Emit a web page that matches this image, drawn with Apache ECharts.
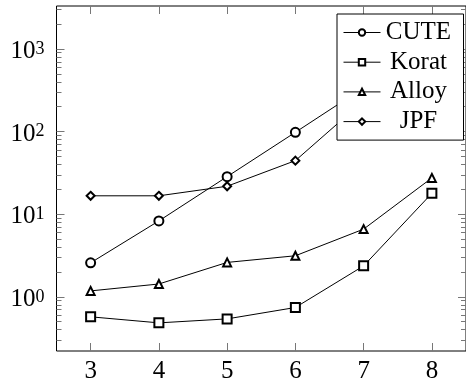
<!DOCTYPE html>
<html>
<head>
<meta charset="utf-8">
<script src="https://cdn.jsdelivr.net/npm/echarts@6/dist/echarts.min.js"></script>
<style>
  html, body { margin: 0; padding: 0; background: #fff; }
  #chart { width: 466px; height: 391px; }
</style>
</head>
<body>
<div id="chart"></div>
<script>
// problem size on the x axis
var sizes = ['3', '4', '5', '6', '7', '8'];
// time per tool (log scale)
var cute = [2.58, 8.3, 28.5, 98, 340, 1150];
var korat = [0.573, 0.484, 0.541, 0.743, 2.37, 17.9];
var alloy = [1.18, 1.43, 2.61, 3.14, 6.6, 27.5];
var jpf = [16.7, 16.7, 21.8, 44.5, 236, 1300];
// y ticks
var majorTicks = [1, 10, 100, 1000];
var minorTicks = [0.3, 0.4, 0.5, 0.6, 0.7, 0.8, 0.9,
  2, 3, 4, 5, 6, 7, 8, 9,
  20, 30, 40, 50, 60, 70, 80, 90,
  200, 300, 400, 500, 600, 700, 800, 900,
  2000, 3000];

var font = 'Liberation Serif';
var tickColor = '#777';

var chart = echarts.init(document.getElementById('chart'));

function yAx (pos, ticks, len, labels) {
  return {
    type: 'log',
    logBase: 10,
    min: 0.221,
    max: 3311,
    position: pos,
    axisLine: { show: false },
    splitLine: { show: false },
    minorTick: { show: false },
    axisTick: {
      show: true,
      inside: true,
      length: len,
      customValues: ticks,
      lineStyle: { color: tickColor, width: 1 }
    },
    axisLabel: labels ? {
      show: true,
      customValues: majorTicks,
      margin: 12,
      formatter: function (v) {
        return '{b|10}{s|' + Math.round(Math.log10(v)) + '}';
      },
      rich: {
        b: { fontFamily: font, fontSize: 25, lineHeight: 25, color: '#000', padding: [5, 0, 0, 0] },
        s: { fontFamily: font, fontSize: 18, lineHeight: 18, color: '#000' }
      }
    } : { show: false }
  };
}

function xAx (pos, labels) {
  return {
    type: 'category',
    data: sizes,
    position: pos,
    boundaryGap: true,
    axisLine: { show: false },
    splitLine: { show: false },
    axisTick: {
      show: true,
      inside: true,
      length: 8,
      alignWithLabel: true,
      lineStyle: { color: tickColor, width: 1 }
    },
    axisLabel: labels ? {
      show: true,
      margin: 8,
      fontFamily: font,
      fontSize: 25,
      color: '#000'
    } : { show: false }
  };
}

function mkSeries (name, data, symbol, size) {
  return {
    name: name,
    type: 'line',
    data: data,
    symbol: symbol,
    symbolSize: size,
    lineStyle: { color: '#000', width: 1 },
    itemStyle: { color: '#000', borderColor: '#222', borderWidth: 1 },
    emphasis: { disabled: true },
    animation: false
  };
}

var option = {
  backgroundColor: '#fff',
  grid: {
    left: 56.5,
    right: -4.5,
    top: 6,
    bottom: 40,
    show: true,
    borderColor: '#000',
    borderWidth: 1,
    backgroundColor: 'transparent'
  },
  legend: {
    orient: 'vertical',
    left: 337,
    top: 14,
    padding: [6, 12, 6, 6],
    itemGap: 4.7,
    itemWidth: 37,
    itemHeight: 8,
    backgroundColor: '#fff',
    borderColor: '#000',
    borderWidth: 1,
    borderRadius: 0,
    lineStyle: { width: 1 },
    itemStyle: { borderWidth: 1 },
    formatter: function (name) {
      return '{c|' + name + '}';
    },
    textStyle: {
      fontFamily: font,
      fontSize: 25,
      lineHeight: 25,
      color: '#000',
      rich: {
        c: { fontFamily: font, fontSize: 25, lineHeight: 25, width: 66, align: 'center' }
      }
    },
    data: ['CUTE', 'Korat', 'Alloy', 'JPF']
  },
  xAxis: [xAx('bottom', true), xAx('top', false)],
  yAxis: [
    yAx('left', majorTicks, 8, true),
    yAx('left', minorTicks, 5, false),
    yAx('right', majorTicks, 8, false),
    yAx('right', minorTicks, 5, false)
  ],
  series: [
    mkSeries('CUTE', cute, 'emptyCircle', 9),
    mkSeries('Korat', korat, 'emptyRect', 9),
    mkSeries('Alloy', alloy, 'emptyTriangle', 8),
    mkSeries('JPF', jpf, 'emptyDiamond', 8)
  ]
};

chart.setOption(option);
</script>
</body>
</html>
